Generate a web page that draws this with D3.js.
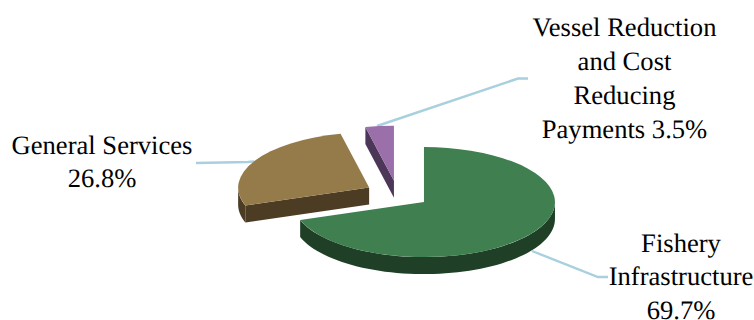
<!DOCTYPE html>
<html>
<head>
<meta charset="utf-8">
<script src="https://cdn.jsdelivr.net/npm/d3@7"></script>
<style>
  html, body { margin: 0; padding: 0; background: #fff; }
  svg { display: block; }
  text { font-family: "Liberation Serif", serif; font-size: 26.6px; fill: #000; text-rendering: geometricPrecision; }
</style>
</head>
<body>
<svg id="chart" width="754" height="320"></svg>
<script>
// Shares of spending by program
const categories = ["Fishery Infrastructure", "General Services", "Vessel Reduction and Cost Reducing Payments"];
const shares = [69.7, 26.8, 3.5];
const topColors = ["#3f7f50", "#957a4a", "#9b6fa9"];
const wallColors = ["#1f3f26", "#4c3c24", "#4d3759"];
const labelLines = [
  ["Fishery", "Infrastructure", "69.7%"],
  ["General Services", "26.8%"],
  ["Vessel Reduction", "and Cost", "Reducing", "Payments 3.5%"]
];

// Tilted pie geometry
const cx = 397.5, cy = 194.2, rx = 131, ry = 55, depth = 17, explode = 0.248;

// Label blocks and their leader lines
const labelPlace = [
  { x: 681, y: 251.5, leader: [[532, 251], [598, 277], [608, 277]] },
  { x: 102, y: 153.5, leader: [[196, 163], [248, 162], [254, 161.5]] },
  { x: 624.5, y: 36, leader: [[377, 126], [518, 78.5], [528, 78.5]] }
];
const lineStep = 33.9;

const svg = d3.select("#chart");

const slices = d3.pie().sort(null).startAngle(0).endAngle(2 * Math.PI)
  .value(d => d)(shares)
  .map((s, i) => {
    const mid = (s.startAngle + s.endAngle) / 2;
    return {
      ...s, i,
      cx: cx + explode * rx * Math.sin(mid),
      cy: cy - explode * ry * Math.cos(mid)
    };
  });

const px = (s, a) => s.cx + rx * Math.sin(a);
const py = (s, a) => s.cy - ry * Math.cos(a);

// The rim faces the viewer between 90 and 270 degrees
const rim = d3.area()
  .x(d => d.x).y0(d => d.y).y1(d => d.y + depth);

function rimPoints(s) {
  const from = Math.max(s.startAngle, Math.PI / 2);
  const to = Math.min(s.endAngle, 3 * Math.PI / 2);
  if (from >= to) return null;
  return d3.range(0, 61).map(k => {
    const a = from + (to - from) * k / 60;
    return { x: px(s, a), y: py(s, a) };
  });
}

// A cut edge shows when it runs down and to the left of the apex
function cutFace(s, a) {
  const x = px(s, a), y = py(s, a);
  return [[s.cx, s.cy], [x, y], [x, y + depth], [s.cx, s.cy + depth]];
}

const line = d3.line();

const leaders = svg.append("g").attr("fill", "none")
  .attr("stroke", "#a8d0df").attr("stroke-width", 2.4);
labelPlace.forEach(p => leaders.append("path").attr("d", line(p.leader)));

const pieLayer = svg.append("g");
const arcUnit = d3.arc().innerRadius(0).outerRadius(1);

slices.forEach(s => {
  const g = pieLayer.append("g");
  const wall = wallColors[s.i];
  const pts = rimPoints(s);
  if (pts) g.append("path").attr("d", rim(pts)).attr("fill", wall);
  // The green wedge's cut edges face away; the other two show their leading edge
  if (s.i !== 0) {
    g.append("path").attr("d", line(cutFace(s, s.startAngle)) + "Z").attr("fill", wall);
  }
  g.append("path")
    .attr("d", arcUnit({ startAngle: s.startAngle, endAngle: s.endAngle }))
    .attr("transform", `translate(${s.cx},${s.cy}) scale(${rx},${ry})`)
    .attr("fill", topColors[s.i]);
});

const labels = svg.append("g").attr("text-anchor", "middle");
labelPlace.forEach((p, i) => {
  labelLines[i].forEach((t, j) => {
    labels.append("text").attr("x", p.x).attr("y", p.y + j * lineStep).text(t);
  });
});
</script>
</body>
</html>
